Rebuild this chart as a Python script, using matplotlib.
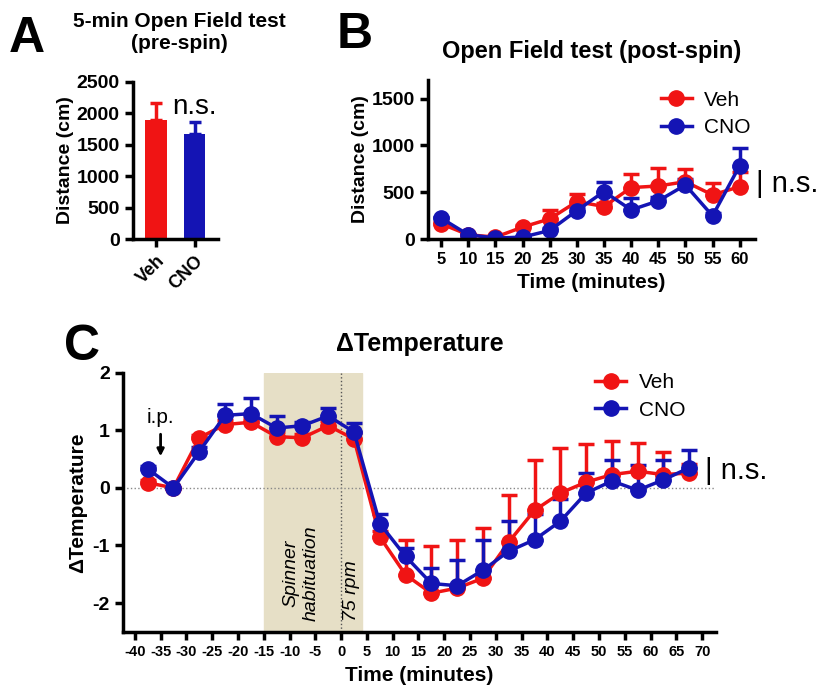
import matplotlib.pyplot as plt
import numpy as np

plt.rcParams['font.family'] = ['Liberation Sans', 'DejaVu Sans']
plt.rcParams['font.weight'] = 'bold'
plt.rcParams['axes.linewidth'] = 2.5
plt.rcParams['axes.unicode_minus'] = False

RED = '#f01414'
BLUE = '#1414b4'

# Panel A: pre-spin open field
groups_a = ['Veh', 'CNO']
dist_a = [1890, 1680]
sem_a = [270, 190]

# Panel B: post-spin open field
time_b = [5, 10, 15, 20, 25, 30, 35, 40, 45, 50, 55, 60]
veh_b = [163, 46, 21, 128, 216, 400, 348, 550, 567, 613, 472, 560]
veh_b_sem = [15, 10, 8, 20, 90, 80, 40, 140, 190, 140, 130, 160]
cno_b = [223, 46, 11, 21, 92, 305, 507, 312, 408, 578, 248, 784]
cno_b_sem = [15, 10, 5, 10, 30, 40, 106, 124, 40, 60, 30, 184]

# Panel C: delta temperature
time_c = [-37.5, -32.5, -27.5, -22.5, -17.5, -12.5, -7.5, -2.5, 2.5, 7.5, 12.5,
          17.5, 22.5, 27.5, 32.5, 37.5, 42.5, 47.5, 52.5, 57.5, 62.5, 67.5]
veh_c = [0.09, 0.0, 0.87, 1.10, 1.14, 0.89, 0.87, 1.08, 0.85, -0.85, -1.51,
         -1.83, -1.74, -1.57, -0.94, -0.39, -0.09, 0.10, 0.23, 0.29, 0.23, 0.26]
veh_c_sem = [0.05, 0.0, 0.05, 0.08, 0.08, 0.08, 0.06, 0.08, 0.1, 0.1, 0.60,
             0.82, 0.84, 0.87, 0.82, 0.88, 0.79, 0.67, 0.58, 0.49, 0.39, 0.15]
cno_c = [0.33, 0.0, 0.63, 1.26, 1.29, 1.04, 1.08, 1.25, 0.97, -0.62, -1.19,
         -1.66, -1.70, -1.43, -1.10, -0.90, -0.58, -0.09, 0.12, -0.04, 0.14, 0.35]
cno_c_sem = [0.05, 0.0, 0.08, 0.19, 0.28, 0.21, 0.06, 0.14, 0.16, 0.16, 0.15,
             0.27, 0.44, 0.53, 0.52, 0.44, 0.39, 0.35, 0.36, 0.43, 0.34, 0.31]

fig = plt.figure(figsize=(8.25, 6.89), dpi=100)


def style(ax, xsize, ysize):
    ax.spines['top'].set_visible(False)
    ax.spines['right'].set_visible(False)
    ax.tick_params(width=2.5, length=6)
    ax.tick_params(axis='x', labelsize=xsize)
    ax.tick_params(axis='y', labelsize=ysize)
    for lab in ax.get_xticklabels() + ax.get_yticklabels():
        lab.set_fontweight('bold')


def line_err(ax, x, y, e, color, ms):
    ax.errorbar(x, y, yerr=[np.zeros(len(e)), e], color=color, lw=2.5,
                marker='o', ms=ms, capsize=6, capthick=2.5, elinewidth=2.5)


# ---- A ----
axA = fig.add_axes([0.161, 0.653, 0.103, 0.228])
xa = np.arange(len(groups_a))
axA.bar(xa, dist_a, width=0.55, color=[RED, BLUE])
for i in range(len(groups_a)):
    col = [RED, BLUE][i]
    axA.errorbar(xa[i], dist_a[i], yerr=[[0], [sem_a[i]]], color=col,
                 capsize=4, capthick=2.5, elinewidth=2.5)
axA.set_xlim(-0.6, 1.6)
axA.set_ylim(0, 2500)
axA.set_yticks([0, 500, 1000, 1500, 2000, 2500])
axA.set_xticks(xa)
axA.set_xticklabels(groups_a, rotation=45, ha='right', rotation_mode='anchor')
axA.set_ylabel('Distance (cm)', fontsize=14, fontweight='bold', labelpad=2)
axA.set_title('5-min Open Field test\n(pre-spin)', fontsize=15, fontweight='bold',
              pad=24, x=0.55)
axA.text(1.0, 1990, 'n.s.', fontsize=20, fontweight='normal', ha='center')
style(axA, 13, 14)

# ---- B ----
axB = fig.add_axes([0.519, 0.653, 0.396, 0.231])
line_err(axB, time_b, veh_b, veh_b_sem, RED, 11)
line_err(axB, time_b, cno_b, cno_b_sem, BLUE, 11)
axB.set_xlim(2.6, 62.8)
axB.set_ylim(0, 1700)
axB.set_yticks([0, 500, 1000, 1500])
axB.set_xticks(time_b)
axB.set_xlabel('Time (minutes)', fontsize=15, fontweight='bold', labelpad=4)
axB.set_ylabel('Distance (cm)', fontsize=14, fontweight='bold', labelpad=2)
axB.set_title('Open Field test (post-spin)', fontsize=17, fontweight='bold', pad=16)
axB.text(63.0, 590, '| n.s.', fontsize=21, fontweight='normal', va='center')
hB = [plt.Line2D([], [], color=c, marker='o', ms=11, lw=2.5) for c in (RED, BLUE)]
axB.legend(hB, ['Veh', 'CNO'], loc='upper right', bbox_to_anchor=(1.045, 1.05),
           frameon=False, prop={'size': 15, 'weight': 'normal'}, handlelength=1.5,
           handletextpad=0.6, labelspacing=0.4)
style(axB, 12, 14)

# ---- C ----
axC = fig.add_axes([0.149, 0.083, 0.719, 0.376])
axC.axvspan(-15, 4, color='#e6dfc6', zorder=0)
axC.axvline(0, color='#555555', ls=':', lw=1, zorder=1)
axC.axhline(0, color='#888888', ls=':', lw=1, zorder=1)
line_err(axC, time_c, veh_c, veh_c_sem, RED, 11)
line_err(axC, time_c, cno_c, cno_c_sem, BLUE, 11)
axC.set_xlim(-42.3, 72.7)
axC.set_ylim(-2.5, 2)
axC.set_yticks([-2, -1, 0, 1, 2])
axC.set_xticks(np.arange(-40, 75, 5))
axC.set_xlabel('Time (minutes)', fontsize=15, fontweight='bold', labelpad=5)
axC.set_ylabel('ΔTemperature', fontsize=15, fontweight='bold', labelpad=4)
axC.set_title('ΔTemperature', fontsize=18, fontweight='bold', pad=16)
axC.text(-7.8, -2.32, 'Spinner\nhabituation', rotation=90, style='italic',
         fontweight='normal', fontsize=14, ha='center', va='bottom',
         linespacing=1.2)
axC.text(2.1, -2.32, '75 rpm', rotation=90, style='italic',
         fontweight='normal', fontsize=14, ha='center', va='bottom')
axC.annotate('', xy=(-35, 0.5), xytext=(-35, 0.98),
             arrowprops=dict(arrowstyle='-|>', color='black', lw=2))
axC.text(-35, 1.05, 'i.p.', fontsize=15, fontweight='normal', ha='center', va='bottom')
axC.text(70.5, 0.3, '| n.s.', fontsize=21, fontweight='normal', va='center')
hC = [plt.Line2D([], [], color=c, marker='o', ms=11, lw=2.5) for c in (RED, BLUE)]
axC.legend(hC, ['Veh', 'CNO'], loc='upper right', bbox_to_anchor=(0.98, 1.07),
           frameon=False, prop={'size': 15, 'weight': 'normal'}, handlelength=1.5,
           handletextpad=0.6, labelspacing=0.4)
style(axC, 10.5, 14)

# panel letters
fig.text(0.010, 0.925, 'A', fontsize=36, fontweight='bold')
fig.text(0.408, 0.93, 'B', fontsize=36, fontweight='bold')
fig.text(0.077, 0.477, 'C', fontsize=36, fontweight='bold')

fig.savefig('out.png', dpi=100)
